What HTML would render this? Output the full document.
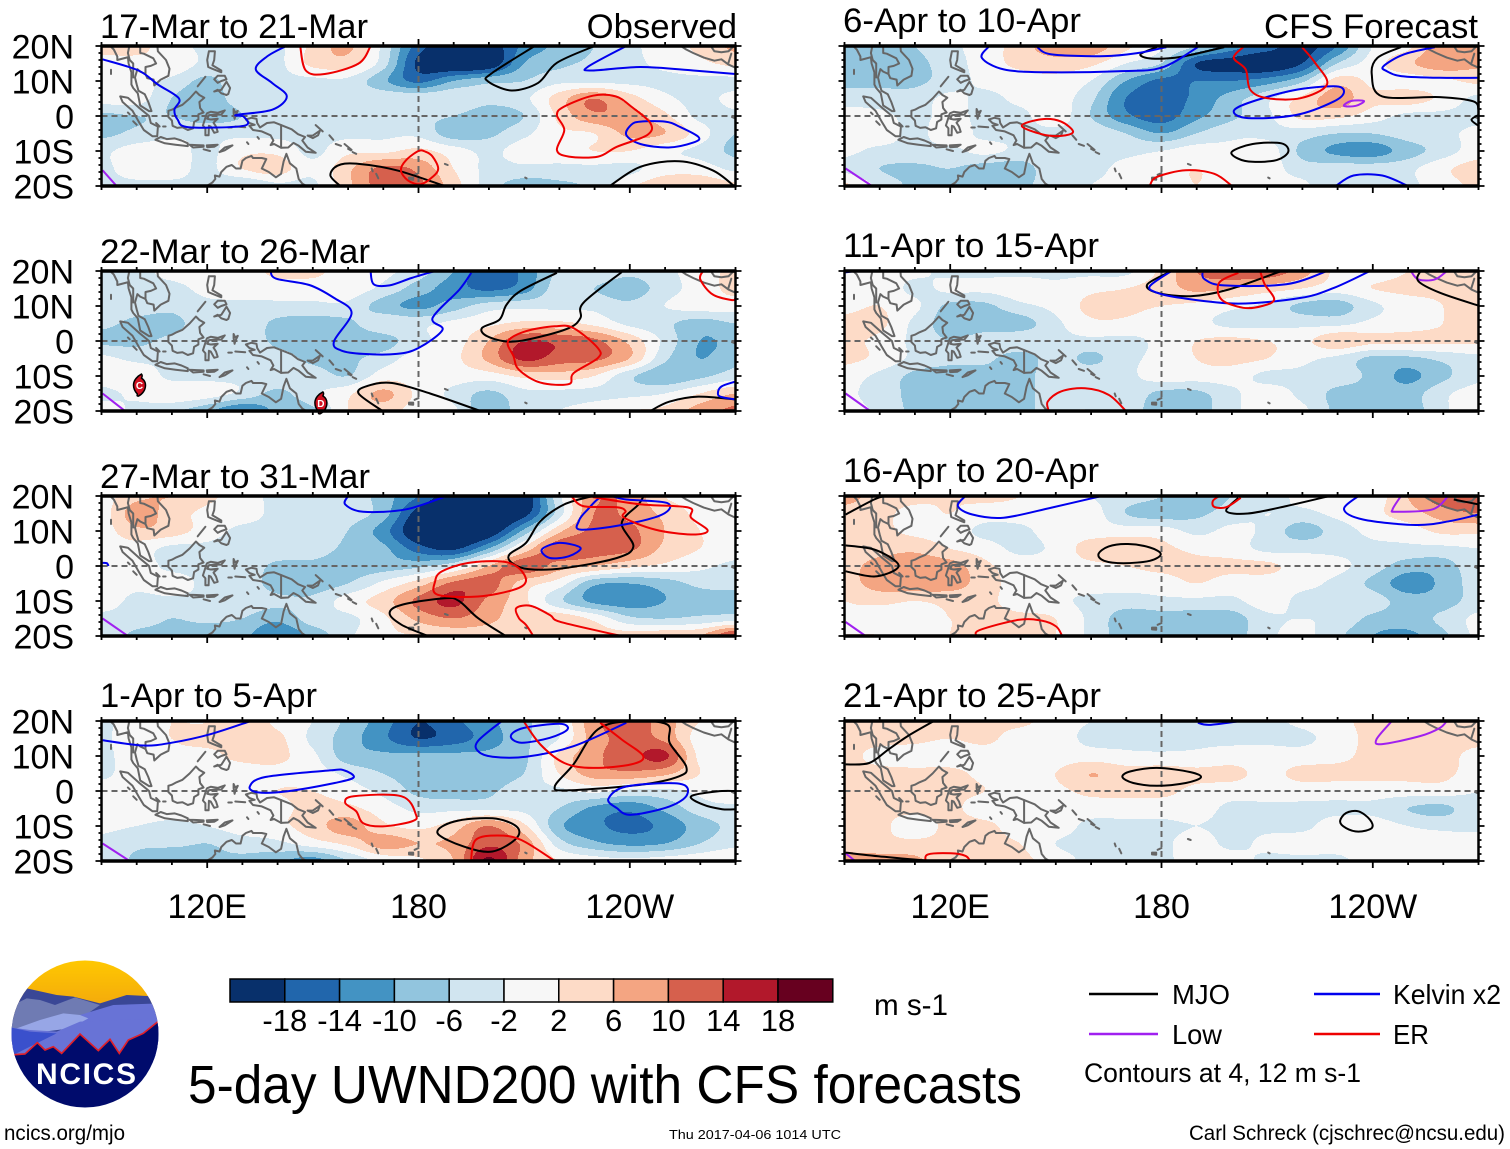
<!DOCTYPE html>
<html>
<head>
<meta charset="utf-8">
<title>5-day UWND200 with CFS forecasts</title>
<style>
html,body{margin:0;padding:0;background:#fff;}
svg{display:block;}
text{font-family:"Liberation Sans",sans-serif;fill:#000;}
</style>
</head>
<body>
<svg id="chart" xmlns="http://www.w3.org/2000/svg" width="1510" height="1149" viewBox="0 0 1510 1149">
<rect width="1510" height="1149" fill="#fff"/>
<defs><clipPath id="logo-clip"><circle cx="85" cy="1034" r="73.5"/></clipPath>
<linearGradient id="sun" x1="0" y1="0" x2="0" y2="1"><stop offset="0" stop-color="#ffc800"/><stop offset="1" stop-color="#f0a010"/></linearGradient></defs>
<g id="panels"></g>

<g>
<g clip-path="url(#logo-clip)">
<rect x="10" y="960" width="150" height="60" fill="url(#sun)"/>
<g transform="translate(0 950) scale(.3333)">
<path d="M30 130 L80 115 L170 135 L220 140 L300 160 L380 135 L480 140 L480 330 L30 330Z" fill="#3a4796"/>
<path d="M30 170 L80 145 L120 150 L165 165 L225 142 L300 165 L250 200 L130 240 L30 240Z" fill="#6f7bb3"/>
<path d="M240 195 L340 165 L480 160 L480 330 L240 330Z" fill="#6873d6"/>
<path d="M50 235 L120 210 L190 190 L240 195 L265 205 L210 235 L110 248Z" fill="#97a6e6"/>
<path d="M30 232 L90 240 L170 245 L240 215 L480 205 L480 330 L30 330Z" fill="#6873d6"/>
<path d="M30 232 L90 245 L170 250 L90 290 L40 315 L30 315Z" fill="#3a50cc"/>
<path d="M30 315 L75 312 L112 278 L135 300 L160 290 L185 310 L240 252 L295 302 L330 268 L358 310 L385 270 L430 250 L480 210 L480 480 L30 480Z" fill="#000b6c"/>
<path d="M30 315 L75 312 L112 278 L135 300 L160 290 L185 310 L240 252 L295 302 L330 268 L358 310 L385 270 L430 250 L480 210" fill="none" stroke="#e0202a" stroke-width="5"/>
</g>
</g>
<text x="86" y="1084" text-anchor="middle" font-size="30" font-weight="bold" style="fill:#fff" textLength="100" lengthAdjust="spacing">NCICS</text>
</g>
<g id="colorbar"></g>
<text x="874" y="1015" font-size="30" textLength="74" lengthAdjust="spacingAndGlyphs">m s-1</text>
<text x="188" y="1103" font-size="54" textLength="834" lengthAdjust="spacingAndGlyphs">5-day UWND200 with CFS forecasts</text>

<g>
<line x1="1089" x2="1158" y1="994" y2="994" stroke="#000" stroke-width="2.5"/>
<text x="1172" y="1004" font-size="28" textLength="58" lengthAdjust="spacingAndGlyphs">MJO</text>
<line x1="1314" x2="1380" y1="994" y2="994" stroke="#0000ee" stroke-width="2.5"/>
<text x="1393" y="1004" font-size="28" textLength="108" lengthAdjust="spacingAndGlyphs">Kelvin x2</text>
<line x1="1089" x2="1158" y1="1034" y2="1034" stroke="#a020f0" stroke-width="2.5"/>
<text x="1172" y="1044" font-size="28" textLength="50" lengthAdjust="spacingAndGlyphs">Low</text>
<line x1="1314" x2="1380" y1="1034" y2="1034" stroke="#ee0000" stroke-width="2.5"/>
<text x="1393" y="1044" font-size="28" textLength="36" lengthAdjust="spacingAndGlyphs">ER</text>
<text x="1084" y="1082" font-size="27" textLength="277" lengthAdjust="spacingAndGlyphs">Contours at 4, 12 m s-1</text>
</g>
<text x="4" y="1140" font-size="21" textLength="121" lengthAdjust="spacingAndGlyphs">ncics.org/mjo</text>
<text x="669" y="1139" font-size="13" textLength="172" lengthAdjust="spacingAndGlyphs">Thu 2017-04-06 1014 UTC</text>
<text x="1189" y="1140" font-size="21" textLength="316" lengthAdjust="spacingAndGlyphs">Carl Schreck (cjschrec@ncsu.edu)</text>
</svg>

<script>
// ---------- axis definitions ----------
const lonGrid = [90,100,110,120,130,140,150,160,170,180,190,200,210,220,230,240,250,260,270];
const latGrid = [20,15,10,5,0,-5,-10,-15,-20];
const lonTicks = [120,180,240];
const lonTickLabels = ['120E','180','120W'];
const latTicks = [20,10,0,-10,-20];
const latTickLabels = ['20N','10N','0','10S','20S'];
const colorLevels = [-18,-14,-10,-6,-2,2,6,10,14,18];
const colorBands = ['#08306b','#2166ac','#4393c3','#92c5de','#d1e5f0','#f7f7f7','#fddbc7','#f4a582','#d6604d','#b2182b','#67001f'];

// ---------- UWND200 anomaly grids (rows: latGrid, columns: lonGrid) ----------
const uwndMar17 = [
[3,3,0,-3,-3,-3,3,7,-3,-16,-21,-21,-13,-9,-6,-3,0,3,7],
[1,1,1,-3,-3,-3,3,4,-4,-19,-23,-22,-10,-7,-5,-3,-1,1,3],
[1,0,-3,-7,-3,-3,-3,-3,-9,-15,-10,-7,-6,-3,-3,-3,-3,-3,-3],
[0,0,-6,-8,-4,-3,-3,-3,-3,-3,-3,-5,-3,4,10,4,-1,-3,-1],
[-7,-6,-6,-8,-6,-3,-3,-3,-5,-5,-6,-8,-6,3,9,8,3,-3,-3],
[-7,-5,-3,-3,-3,-3,-3,-3,-3,-3,-8,-7,-3,1,2,7,6,0,-6],
[-3,0,0,-3,1,1,-3,1,1,3,0,-3,0,0,2,2,-1,-3,-7],
[-3,0,0,-3,2,4,-1,5,11,9,2,-3,-3,-3,-3,-3,0,0,-3],
[-3,-3,-3,-3,-6,-3,-3,5,12,11,4,-4,-8,-7,-5,1,5,5,3]];
const uwndMar22 = [
[-3,-3,-1,-1,0,3,3,0,-1,-4,-10,-17,-13,-5,-3,-5,-3,0,3],
[-3,-3,-3,-1,0,0,0,0,-3,-8,-12,-15,-12,-4,-6,-8,-4,0,3],
[-3,-4,-5,-3,-3,-3,-3,-3,-8,-11,-8,-4,-3,-3,-3,-5,-2,0,0],
[-5,-7,-7,-4,-3,-7,-8,-7,-3,-3,-1,1,3,3,1,-3,-5,-8,-6],
[-7,-7,-5,-4,-3,-7,-8,-8,-8,-3,0,6,14,13,11,5,-3,-10,-9],
[-1,-3,-3,-3,-3,-4,-7,-7,-4,0,1,7,15,12,11,6,-5,-10,-7],
[0,1,-3,-3,-3,-3,-4,-6,0,0,0,0,3,4,2,-5,-9,-7,-4],
[-3,-1,1,0,-3,-7,-3,1,7,1,-3,-7,-3,-3,-3,-3,-2,2,6],
[0,-3,-5,-9,-14,-9,-7,2,4,0,-1,-10,-3,-2,0,2,3,8,11]];
const uwndMar27 = [
[0,5,6,3,0,-3,-3,-3,-8,-14,-22,-24,-22,-3,9,9,2,0,-1],
[0,8,4,1,0,-3,-3,-4,-8,-20,-24,-24,-20,-4,10,9,5,1,1],
[0,5,4,0,-3,-3,-3,-6,-12,-22,-24,-22,-9,5,11,11,6,2,1],
[-1,0,-3,-3,-3,-3,-4,-7,-9,-16,-19,-10,3,13,12,11,5,2,0],
[-1,0,-3,-3,-3,-7,-7,-8,-8,-7,-3,6,13,8,6,3,1,-1,-3],
[0,-1,0,-3,-3,-8,-8,-6,-1,4,11,12,4,0,-9,-10,-8,-5,-5],
[0,-3,-3,-3,-3,-5,-5,0,4,11,15,9,3,-5,-11,-12,-10,-8,-7],
[-3,-4,-6,-5,-6,-9,-4,-3,1,7,10,7,4,5,1,-5,-6,-5,-4],
[-3,-7,-7,-9,-9,-14,-9,-3,1,2,3,4,4,5,4,4,5,6,15]];
const uwndApr1 = [
[-3,0,2,2,5,1,-2,-7,-12,-18,-15,-11,-7,-2,9,12,8,2,0],
[-3,1,2,3,3,3,-3,-8,-13,-18,-16,-12,-7,-2,8,11,9,0,0],
[-3,0,1,1,3,3,-1,-8,-9,-9,-9,-9,-7,3,9,12,15,1,0],
[-3,0,-1,0,0,1,0,-3,-6,-8,-9,-9,-6,2,8,9,7,2,-2],
[0,0,1,0,0,2,2,0,-3,-7,-8,-7,-3,-3,-1,-3,-3,-1,1],
[0,0,0,0,0,1,3,3,0,-3,-3,-3,-3,-6,-11,-13,-9,-4,-3],
[-1,-2,-3,-2,0,1,4,8,3,1,4,10,3,-9,-13,-15,-13,-8,-5],
[-3,-5,-5,-6,-4,-3,0,3,8,6,7,13,9,-4,-9,-11,-10,-6,-3],
[-3,-7,-10,-7,-7,-9,-12,-6,-1,1,6,19,8,2,0,-1,0,1,2]];
const uwndApr6 = [
[-7,-6,-6,-3,0,4,9,9,3,-1,-6,-12,-16,-20,-14,-2,1,9,10],
[-7,-7,-7,-4,0,3,4,3,-2,-6,-18,-20,-22,-18,-6,0,5,9,7],
[-7,-7,-7,-4,-1,0,1,-2,-10,-15,-14,-14,-12,-7,4,1,0,1,3],
[-4,-4,-4,-1,-3,-1,0,-5,-14,-16,-13,-8,-3,3,8,3,4,1,-3],
[0,-1,-3,-1,-3,-3,0,-6,-13,-16,-11,-7,-3,3,3,0,-3,-3,-3],
[0,0,-3,0,-3,-3,-3,-3,-6,-10,-6,-3,-3,-4,-6,-6,-4,-3,-1],
[-1,-3,-3,-3,-1,-3,-3,-3,-3,-2,0,-1,0,-7,-11,-12,-8,-4,0],
[-3,-6,-7,-6,-8,-8,-3,-3,-1,0,2,0,0,-4,-4,-4,-3,1,4],
[3,-3,-7,-9,-9,-7,-4,-2,-1,0,2,0,-1,-1,-6,-5,-3,0,3]];
const uwndApr11 = [
[0,0,-1,-3,-3,-3,-3,-3,-3,3,10,13,13,8,1,0,2,3,4],
[0,1,-3,-1,-1,0,-1,1,2,4,7,6,4,2,0,2,3,3,5],
[1,2,-1,-7,-7,-3,-1,3,3,2,1,-1,-3,-7,-8,-3,0,2,4],
[3,3,-3,-8,-8,-8,-3,1,1,-1,-1,-3,-3,-3,-3,-1,0,2,6],
[3,1,-3,-6,-4,-3,-3,-3,-3,-1,2,3,2,1,5,3,3,3,3],
[3,1,-3,-5,-5,-8,-4,-7,-3,-1,2,3,2,-1,-3,-7,-7,-5,-3],
[0,-3,-7,-8,-8,-8,-3,-3,-3,0,0,0,-3,-3,-4,-7,-11,-7,-3],
[-1,-4,-7,-8,-8,-8,-3,-3,-3,-7,-7,-3,0,-3,-7,-7,-8,-3,0],
[0,-3,-7,-8,-8,-8,-3,-2,-4,-8,-8,-3,0,-1,-7,-8,-8,-3,2]];
const uwndApr16 = [
[8,4,3,2,3,2,0,-2,-4,-6,-9,-6,-4,-1,0,0,6,13,14],
[4,3,1,2,0,0,0,0,-6,-8,-7,-4,-2,-3,-1,1,4,8,10],
[3,3,1,0,-3,-3,0,0,0,0,-3,-1,-3,-8,-4,-1,0,3,3],
[2,4,5,2,0,-3,-1,4,5,3,1,0,-3,-3,-3,-3,-3,-3,-2],
[4,8,9,8,3,0,0,1,2,3,3,3,3,0,-1,-4,-8,-8,-3],
[4,8,9,8,4,0,-1,0,0,0,2,0,0,-1,-3,-7,-12,-9,-4],
[2,3,2,3,3,0,-1,-3,-4,-3,-3,-3,0,-3,-3,-4,-8,-8,-4],
[2,0,1,2,3,3,2,-3,-8,-8,-8,-8,-3,-2,-3,-7,-8,-5,-1],
[2,2,0,2,3,3,2,-3,-8,-8,-8,-8,-3,-1,-5,-10,-11,-7,-1]];
const uwndApr21 = [
[3,3,4,6,3,3,0,-2,-3,-3,-3,-3,-3,-1,1,3,3,3,4],
[3,3,3,2,3,0,0,-3,-3,-4,-3,-3,-3,-3,0,3,3,3,3],
[3,1,0,0,0,0,0,0,-1,-1,-1,0,0,0,1,3,3,3,1],
[3,3,3,3,1,0,2,6,4,4,3,3,1,3,3,3,3,3,0],
[3,3,3,3,2,0,1,3,3,3,1,0,0,0,0,0,0,0,-2],
[3,3,3,3,0,0,0,0,0,0,0,-3,-3,-3,-3,-3,-6,-7,-3],
[3,3,0,3,3,0,0,-3,-3,-3,-2,-3,-3,-3,0,0,-2,-3,-3],
[3,3,3,3,3,2,-2,-3,-3,-3,0,-3,-1,0,0,0,0,0,0],
[9,8,7,3,3,3,0,-3,-3,-3,0,0,-3,-3,-3,0,0,0,0]];

// ---------- filtered wave contours [lon,lat] ----------
const mjoMar17 = [
[[157.8,-20],[155,-17],[157,-14.2],[162.3,-13.6],[173.8,-15.5],[187.4,-20]],
[[213,20],[200.9,12.3],[199.6,10],[206.4,7.3],[214,9.5],[219.3,15.2],[230,20]],
[[234.3,-20],[243,-14.5],[254,-12.9],[263.5,-15.5],[269.6,-20]]];
const kelvinMar17 = [
[[90.3,16.2],[100.5,13],[106,9],[112,5],[110.7,1.8],[111.6,-1],[114.7,-3.2],[130.4,-2.8],[130.4,-0.2],[128.3,0.3],[138.5,1.8],[142.6,5.6],[138.5,9.4],[133.8,13.3],[137,17],[142,19.8]],
[[239,20],[228,14],[229.5,13],[243,14],[258,13],[270,12]],
[[240.4,-2.5],[239,-5.4],[243,-8],[251,-9],[258,-7.6],[259.5,-6],[254,-3],[250,-1.6],[243,-1.6],[240.4,-2.5]]];
const erMar17 = [
[[146.4,20],[148,13],[153.4,12],[163,15],[166.4,20]],
[[219.3,0.3],[221.4,2.7],[229.5,5.8],[236,5.6],[240.4,2.7],[245.8,-2],[245,-5.4],[236.3,-8.8],[231,-11.6],[222.7,-11.6],[219.3,-9.7],[221.4,-4],[219.3,0.3]],
[[180,-10],[176.5,-12.6],[175,-15.5],[177,-18.4],[180.6,-19.5],[184,-17.4],[185.6,-15],[184,-11.6],[182,-10.2],[180,-10]]];
const lowMar17 = [[[90.3,-15.5],[94.3,-20]]];

const mjoMar22 = [
[[219.3,19.5],[209,14.3],[205,10.4],[203,6.1],[198,3.7],[199.6,1.3],[205.8,-0.2],[213.2,0.9],[222.7,3.7],[226,6.6],[226.8,10.9],[237.7,19.7]],
[[169.8,-20],[163,-15],[165.6,-12.8],[172.5,-12],[183.3,-15],[197.6,-20]],
[[245.8,-20],[251.3,-17.3],[259.4,-15.9],[270,-16.7]]];
const kelvinMar22 = [
[[138,20],[139.6,17.8],[149,16],[156,12.3],[161,8],[156,-0.1],[158,-2.7],[164.3,-3.7],[173.8,-3.7],[180,-2],[186.8,3.2],[184,6.6],[191.6,14.7],[195,19.5]],
[[166.4,20],[167.3,16.2],[171.8,15.9],[178,18],[184.7,20]],
[[270,-11.6],[266,-13],[265,-15],[266,-16],[270,-16.7]]];
const erMar22 = [
[[205.4,-0.1],[210.5,2.8],[218.7,4.2],[224,3.7],[230.9,-2],[230.9,-4.9],[224,-9.2],[222.7,-12.3],[214.6,-11.9],[208.5,-8.2],[207,-4.4],[205.4,-0.1]],
[[260.8,20],[260,17.6],[263.5,13.3],[269,11.7],[270,12.3]]];
const lowMar22 = [[[90.3,-15],[96.7,-20]]];

const mjoMar27 = [
[[229.5,20],[221.4,17.6],[214.6,12.8],[210.5,6.6],[205.8,3.3],[206.5,0.9],[211.2,-0.9],[221.4,-0.6],[236.3,2.3],[241,5.6],[237.7,12.3],[242.5,17.6],[243.9,20]],
[[182.7,-20],[175.2,-16.8],[171.8,-13.5],[175.2,-11.1],[187.4,-9.2],[191.5,-10],[196.9,-14.9],[204.8,-20]]];
const kelvinMar27 = [
[[160,20],[159.2,17.6],[164.3,15.5],[176.5,16.2],[188,20]],
[[225.5,12.8],[227.6,15.7],[232.5,20],[239,19],[250.6,18],[249.2,14.7],[237.7,11.7],[226,10.4],[225.5,12.8]],
[[215,4.7],[220,6.6],[226,5.2],[222.7,2.8],[217.3,2.3],[215,4.7]],
[[90.3,0.9],[91.5,0.8],[92,0]]];
const erMar27 = [
[[223.4,20],[226.8,17.1],[236.3,16.8],[238.8,15.7],[238.4,13.8],[247.2,10.4],[257.4,9],[262.1,10.1],[257.4,13.8],[256.7,16.7],[243.1,17.6],[229.5,19.7]],
[[184.7,-4.4],[186.7,-1.5],[194.2,0.9],[203.7,1.3],[208.5,-0.6],[210.5,-4.4],[207,-6.8],[196.9,-8.7],[185.4,-8.2],[184.7,-4.4]],
[[212.6,-20],[210.5,-16.8],[208.5,-14.9],[207.8,-12],[211.9,-11.4],[217.3,-14],[220,-15.9],[232.2,-18.8],[237.7,-20]]];
const lowMar27 = [[[90.3,-15],[97.5,-20]]];

const mjoApr1 = [
[[185.4,-12],[190.2,-8.7],[201,-7.8],[207.8,-10.1],[207.8,-13.5],[201,-17.3],[192.9,-15.9],[185.4,-12]],
[[218.7,1.3],[224,7.6],[230.9,17.6],[240.4,20],[250.6,19],[251.3,13.8],[256,7],[254,4.2],[243.1,1.8],[222.7,0.2],[218.7,1.3]],
[[270,0],[264.9,-0.1],[257.4,-1.5],[260.8,-3.9],[266.2,-5.2],[270,-5.2]]];
const kelvinApr1 = [
[[90.3,14.5],[101.8,13],[110,13.8],[120.8,16.2],[132.4,20]],
[[132.1,1.3],[136.5,4],[154.8,5.9],[158.9,5.9],[161.6,3.9],[156.2,2.3],[142.6,-0.1],[134.4,-0.4],[132.1,1.3]],
[[203.7,20],[196.9,14.3],[196.9,11.4],[201,9.8],[210.5,9.8],[224,12.8],[239,19.5]],
[[206.2,15.7],[209.8,18],[220,19.2],[222.3,17.6],[217.3,15.2],[209.2,13.8],[206.2,15.7]],
[[233.9,-2.3],[239,1.3],[254,2.1],[256.3,-1],[251.3,-4.4],[240.4,-6.8],[236.3,-4.9],[233.9,-2.3]]];
const erApr1 = [
[[159.2,-3.4],[161.6,-1.5],[175.2,-1.5],[179.3,-6.8],[178,-8.7],[169.8,-10.1],[164.3,-9.2],[162.3,-5.8],[159.2,-3.4]],
[[209.8,20],[214.6,13.3],[221.4,8],[229.5,6.6],[240.4,7.6],[243.8,10],[237.7,14.7],[231.6,19.5]],
[[194.9,-20],[196.2,-14],[202.4,-12.7],[209.2,-14],[218.7,-20]]];
const lowApr1 = [[[90.3,-15],[98,-20]]];

const mjoApr6 = [
[[178.7,19.7],[174,17.6],[177.3,16.4],[185.5,16.9],[197.8,19.7]],
[[200,-10.2],[205.9,-8],[214,-7.8],[216,-10.2],[212.7,-12.6],[205.9,-13.1],[201.8,-12.2],[200,-10.2]],
[[248,19.7],[241.3,16.6],[239.7,11.8],[242.7,5.6],[259,5.4],[268.5,4.2],[270,1.8]],
[[270,-2.8],[268,-1.1],[270,0.3]]];
const kelvinApr6 = [
[[130.8,19.7],[129,16.6],[135.2,13.3],[147.4,12.5],[167.8,12.8],[180,13.8],[190.3,19.7]],
[[144.7,19.7],[148.8,17.6],[163.7,17.1],[173.3,18],[181.4,19.7]],
[[200.5,1.3],[204.6,3.7],[217.2,7.3],[229,8.5],[231.8,7],[229,4.2],[218.2,0.3],[204.6,-0.6],[200.5,1.3]],
[[270,10.9],[259,10.9],[248,11.4],[244,12.8],[243,14.2],[248.8,17.6],[257.6,19.7]],
[[229.5,-20],[234.5,-17],[242.7,-17],[250,-20]]];
const erApr6 = [
[[140.3,-2.8],[146,-0.9],[151.5,-1.6],[154.9,-4.5],[151.5,-5.7],[146,-5.2],[140.3,-2.8]],
[[203.2,19.7],[200.5,16.6],[203.9,13.3],[205.2,7.5],[210,5.1],[219.5,5.1],[227,9],[223.6,15.2],[219.9,19.7]],
[[176.7,-19.8],[178.7,-17.4],[186.9,-15.5],[195,-16.5],[200,-20]]];
const lowApr6 = [
[[231.8,2.9],[233.8,4.3],[237.5,4.3],[235.2,2.9],[231.8,2.9]],
[[90.3,-15],[97.8,-20]]];

const mjoApr11 = [
[[182.8,20],[176,16.2],[178.7,13.8],[188.2,12.8],[199,14.7],[214,20]],
[[253.5,20],[252.9,17.1],[259,13.8],[270,10.1]]];
const kelvinApr11 = [
[[239.2,20],[229,15.2],[219.5,12.3],[201.8,10.7],[185.5,12.3],[178.7,13.8],[176.7,15.7],[182.8,20]],
[[191.6,19.5],[192.3,17.6],[197.7,15.9],[215.4,16.2],[227,20]],
[[90.3,19.6],[93,20]]];
const erApr11 = [
[[148,-20],[147.7,-17.3],[151.5,-14.4],[158.3,-13.5],[165,-15.4],[169.9,-20]],
[[208,20],[209.3,16.2],[212,11.9],[208.6,10],[203.2,9.5],[197,11.9],[196.4,16.7],[201.8,19.5]]];
const lowApr11 = [
[[90.3,-15],[97.3,-20]],
[[250.8,20],[252.9,17.6],[257.6,17.6],[261,20]]];

const mjoApr16 = [
[[90.3,14.7],[98.4,19],[101.4,20]],
[[90.3,5.9],[98.4,4.7],[104.6,1.3],[104.6,-1],[98.4,-3],[90.3,-1.5]],
[[162.1,3.4],[165,5.6],[170.5,6.3],[176.7,5.3],[179.8,3.4],[176.7,1.5],[169.2,0.8],[163.7,1.5],[162.1,3.4]],
[[227.7,20],[215.4,17.1],[204.5,15],[198.4,15.7],[201.8,19.5]],
[[263,19],[270,17.6]]];
const kelvinApr16 = [
[[124.3,20],[122.2,17.1],[126.3,14.7],[135.2,13.8],[148.8,16.7],[163,20]],
[[235.9,20],[231.8,16.2],[237.2,13.3],[252.2,11.7],[261.7,12.8],[270,14.7]]];
const erApr16 = [
[[196.4,20],[194.6,18.6],[195,16.9],[198.4,16.8],[202.5,19.5]],
[[127.4,-20],[128.4,-18.3],[139.3,-15.4],[146,-15.6],[150.1,-17.3],[151.8,-20]]];
const lowApr16 = [
[[90.3,-16],[96,-20]],
[[261.4,20],[257,16.2],[246.7,15.5],[245.6,16.2],[248,20]]];

const mjoApr21 = [
[[90.3,7.6],[97,8],[102.5,11.9],[108,15.7],[115.4,20]],
[[168.9,4],[171.2,5.6],[178.7,6.6],[188.2,5.4],[191.2,3.9],[186.9,2.3],[178.7,1.5],[172,2.3],[168.9,4]],
[[230.7,-8.7],[232.4,-6.3],[235.9,-5.8],[239.2,-8.2],[239.7,-10.6],[235.9,-11.6],[232.4,-10.6],[230.7,-8.7]],
[[90.3,-17.6],[101.2,-18.8],[113.4,-19.9],[120,-20]]];
const kelvinApr21 = [[[190.3,19.5],[193.6,18.9],[202.5,20]]];
const erApr21 = [[[113,-19.9],[113.7,-18.1],[120.2,-17.8],[124.3,-18.5],[125.6,-19.9]]];
const lowApr21 = [
[[90.3,-17.8],[93,-20]],
[[245.4,20],[241,14.7],[242.7,13.4],[253.5,15.7],[259,18],[261,20]]];

// ---------- coastlines [lon,lat] ----------
const coastlines = [
[[92,20.5],[93.5,19],[94.5,17],[94.5,16],[96,16.4],[97.5,16.8],[97.7,15],[98.5,12.5],[98.5,9],[99,8],[100.3,6.5],[101,3],[103.5,1.4],[104.2,1.4],[103.3,4],[102.3,6.2],[100.5,7.2],[100,9],[99.5,11],[100.2,13.4],[101,12.7],[102.5,12],[103,10.8],[104.8,10.4],[105,8.7],[106.8,10.4],[109,11.5],[109.3,13.5],[108.3,16],[106,18.5],[105.8,20.5]],
[[101,20.5],[101,18],[102,17.8],[104.7,16.5],[105.5,15],[104,14.3],[102.5,14],[102.5,12]],
[[98,20.5],[97.5,18],[98,16],[99,15],[99,11]],
[[95.3,5.6],[97.5,5.2],[100.5,2.5],[103.5,0],[104,-2],[106,-3],[105.8,-5.8],[104.5,-5.8],[102,-4],[100.5,-1.5],[98.8,1.5],[96,4],[95.3,5.6]],
[[105.3,-6.8],[106.8,-6],[108.5,-6.6],[110.8,-6.4],[112.7,-7],[114.5,-7.8],[114.5,-8.6],[111,-8.2],[108,-7.8],[105.3,-6.8]],
[[115,-8.2],[117,-8.3],[119,-8.4],[119,-8.8],[116,-9],[115,-8.2]],
[[119.9,-8.4],[123,-8.2],[122,-8.8],[120,-8.9],[119.9,-8.4]],
[[123.5,-10.3],[125,-9],[127.2,-8.4],[125,-9.8],[123.5,-10.3]],
[[119,-9.5],[120.8,-10]],
[[109,1.5],[110,1.8],[111.3,2.5],[113,3.2],[115,5],[116.8,7],[117.8,6],[119.2,5.2],[117.8,4],[118,2.3],[119,1],[117.5,0.5],[117.5,-1],[116.3,-1.7],[116,-3.5],[114.5,-4],[113,-3.2],[111.5,-3.4],[110.2,-2.8],[110,-1.3],[109,-0.3],[109,1.5]],
[[119.8,0.5],[120,0.8],[121,1.2],[123,0.9],[125,1.6],[124,0.4],[122,0.4],[120.5,0.2],[120,-0.8],[121,-1],[123,-0.8],[121.8,-1.9],[122.5,-3],[123,-4.5],[122,-4.8],[121,-3],[120.5,-2.8],[120.4,-5.5],[119.5,-5.5],[119.5,-3.5],[118.8,-2.7],[119.8,0.5]],
[[120.5,18.5],[122.2,18.5],[122,16],[121.5,14.5],[124,13],[124,12.5],[121.5,13.5],[120.3,14],[120,16],[120.5,18.5]],
[[122,7],[124,7.5],[125.5,9.8],[126.5,8],[126,6.3],[125.5,6],[124,6.5],[123,7.5],[122,7]],
[[123,11.5],[125,11.5],[125.5,10.5],[124,10],[123,9.5],[122,10.5],[123,11.5]],
[[117.3,8.5],[119.5,11.2]],
[[127.5,2],[128,1],[128.7,1.5],[128,0],[127.8,-0.8],[127.5,0.8],[127.5,2]],
[[128,-3],[130.8,-3.2]],[[126,-3.3],[127,-3.3]],
[[131,-1],[132.5,-0.5],[134,-0.8],[134.2,-2],[135,-3.3],[137,-2],[139,-1.8],[141,-2.6],[144,-3.8],[145.8,-5.2],[147.8,-6],[147,-7],[148.5,-9],[150.8,-10.5],[148,-10.2],[146,-8.5],[144.5,-7.7],[143,-9],[141,-9.1],[139,-8],[138,-8.3],[138.8,-7],[138,-5.5],[135.5,-4.4],[133,-4],[132,-2.8],[133.5,-2.5],[132,-2],[131,-1]],
[[141,-2.6],[141,-9.1]],
[[148.5,-5.6],[150,-5.6],[152,-4.2],[151.5,-5.5],[150,-6.3],[148.5,-5.6]],
[[150.8,-2.6],[152.8,-4.4]],
[[154.7,-5.5],[155.8,-6.8]],[[156.5,-8],[158,-8.5]],[[159,-8],[161,-9.7]],[[160,-9.4],[160.8,-9.8]],[[161.3,-10.3],[162.3,-10.8]],
[[166.7,-15],[167,-15.8]],[[168,-16.5],[168.6,-17.8]],
[[177.3,-17.6],[178.5,-17.6],[178.5,-18.2],[177.3,-18.1],[177.3,-17.6]],[[178.9,-16.8],[180,-16.3]],
[[187.5,-13.7],[188.3,-14]],[[210.3,-17.6],[210.7,-17.8]],
[[121.5,-19],[122.3,-18],[122.2,-17],[123.5,-17.3],[124,-16],[125.5,-14.5],[127,-14],[128.2,-15],[129.5,-15],[130,-12.8],[131,-12],[132.6,-11.4],[133,-12],[135.5,-12],[136.8,-12.3],[135.5,-15],[137.5,-16],[139.5,-17.5],[141,-16.5],[141.7,-13],[142.5,-10.8],[143.5,-13.5],[145.3,-15],[146,-18],[147,-19.3],[148.5,-20.2]],
[[120,-19.9],[121.5,-19]],
[[254.5,20],[256,19],[258,18],[261,16.7],[264,15.8],[266,16.2],[268,14.7],[270,13.8]],
[[263,20],[264,18.5],[266,18.2],[268,18.5],[269.5,20]],
[[267.9,14.9],[268.8,17.8]],
[[269,-0.3],[269.7,-0.6]],
[[92.7,12],[92.7,13.2]],[[97.5,1],[98,0.5]],[[99,-1.5],[100,-2.5]],[[105.5,-2],[106.5,-3]],[[107.5,-3],[108.2,-3]],
[[131.3,-7.5],[131.7,-8]],[[134.3,-6],[134.7,-6.5]]
];

// ---------- panels ----------
const panelTitles = ['17-Mar to 21-Mar','22-Mar to 26-Mar','27-Mar to 31-Mar','1-Apr to 5-Apr','6-Apr to 10-Apr','11-Apr to 15-Apr','16-Apr to 20-Apr','21-Apr to 25-Apr'];
const panelFields = [uwndMar17,uwndMar22,uwndMar27,uwndApr1,uwndApr6,uwndApr11,uwndApr16,uwndApr21];
const panelMjo = [mjoMar17,mjoMar22,mjoMar27,mjoApr1,mjoApr6,mjoApr11,mjoApr16,mjoApr21];
const panelKelvin = [kelvinMar17,kelvinMar22,kelvinMar27,kelvinApr1,kelvinApr6,kelvinApr11,kelvinApr16,kelvinApr21];
const panelEr = [erMar17,erMar22,erMar27,erApr1,erApr6,erApr11,erApr16,erApr21];
const panelLow = [lowMar17,lowMar22,lowMar27,lowApr1,lowApr6,lowApr11,lowApr16,lowApr21];
const cycloneLons = [100.8,152.3];
const cycloneLats = [-12.6,-17.7];
const cycloneLetters = ['C','D'];

const NS = 'http://www.w3.org/2000/svg';
const PW = 634, PH = 140, RS = 225, LEFT = [101.5,844.5], TOP = 46;
const TITLE_BASE = [38,263,488,707,32,257,482,707];
const TITLE_W = [268,270,270,217,238,256,256,258];

function mk(tag, attrs, parent){
  const el = document.createElementNS(NS, tag);
  for (const k in attrs) el.setAttribute(k, attrs[k]);
  parent.appendChild(el);
  return el;
}
function catmull(p0,p1,p2,p3,t){
  return 0.5*((2*p1)+(-p0+p2)*t+(2*p0-5*p1+4*p2-p3)*t*t+(-p0+3*p1-3*p2+p3)*t*t*t);
}
function bandIndex(v){
  let i = 0;
  while (i < colorLevels.length && v >= colorLevels[i]) i++;
  return i;
}
function sampleField(f, lon, lat){
  const step = lonGrid[1]-lonGrid[0], lstep = latGrid[0]-latGrid[1];
  const u = (lon-lonGrid[0])/step, v = (latGrid[0]-lat)/lstep;
  const iu = Math.min(Math.max(Math.floor(u),0),lonGrid.length-2), iv = Math.min(Math.max(Math.floor(v),0),latGrid.length-2);
  const tu = u-iu, tv = v-iv, rows = [];
  for (let r=-1;r<=2;r++){
    const R = f[Math.min(Math.max(iv+r,0),latGrid.length-1)];
    const c = k => R[Math.min(Math.max(iu+k,0),lonGrid.length-1)];
    rows.push(catmull(c(-1),c(0),c(1),c(2),tu));
  }
  return catmull(rows[0],rows[1],rows[2],rows[3],tv);
}
function smoothPath(pts, xs, ys){
  const P = pts.map(p=>[xs(p[0]),ys(p[1])]);
  const closed = pts.length>2 && pts[0][0]===pts[pts.length-1][0] && pts[0][1]===pts[pts.length-1][1];
  const n = P.length;
  let d = 'M'+P[0][0].toFixed(1)+' '+P[0][1].toFixed(1);
  for (let i=0;i<n-1;i++){
    const a = i>0?P[i-1]:(closed?P[n-2]:P[i]);
    const b = P[i], c = P[i+1];
    const e = i<n-2?P[i+2]:(closed?P[1]:c);
    d += 'C'+(b[0]+(c[0]-a[0])/6).toFixed(1)+' '+(b[1]+(c[1]-a[1])/6).toFixed(1)+' '+(c[0]-(e[0]-b[0])/6).toFixed(1)+' '+(c[1]-(e[1]-b[1])/6).toFixed(1)+' '+c[0].toFixed(1)+' '+c[1].toFixed(1);
  }
  return d;
}
function drawLines(group, sets, color, name, xs, ys){
  sets.forEach(pts=>{
    const el = mk('path',{d:smoothPath(pts,xs,ys),fill:'none',stroke:color,'stroke-width':2},group);
    
    
  });
}

const root = document.getElementById('panels');
const defs = document.querySelector('defs');
panelTitles.forEach((title,idx)=>{
  const col = idx<4?0:1, row = idx%4;
  const L = LEFT[col], T = TOP+row*RS;
  const xs = lon => L+(lon-90)*PW/180;
  const ys = lat => T+(20-lat)*PH/40;
  const g = mk('g',{},root);
  
  
  const cp = mk('clipPath',{id:'clip'+idx},defs);
  mk('rect',{x:L,y:T,width:PW,height:PH},cp);
  const plot = mk('g',{'clip-path':'url(#clip'+idx+')'},g);
  
  

  // filled field, one path per colour band
  const segs = colorBands.map(()=>[]);
  const F = panelFields[idx];
  const L0 = Math.floor(L);
  for (let py=0;py<PH;py++){
    const lat = 20-(py+0.5)*40/PH;
    let start = 0, cur = -1;
    for (let px=0;px<=PW;px++){
      const b = px<PW?bandIndex(sampleField(F,90+(px+0.5)*180/PW,lat)):-2;
      if (b!==cur){
        if (cur>=0) segs[cur].push('M'+(L0+start)+' '+(T+py)+'h'+(px-start)+'v1h-'+(px-start)+'z');
        cur = b; start = px;
      }
    }
  }
  segs.forEach((s,b)=>{
    if (!s.length) return;
    const el = mk('path',{d:s.join(''),fill:colorBands[b],'shape-rendering':'crispEdges'},plot);
    
    
  });

  // coastlines
  const cg = mk('g',{},plot);
  
  
  coastlines.forEach(c=>{
    const d = c.map((p,i)=>(i?'L':'M')+xs(p[0]).toFixed(1)+' '+ys(p[1]).toFixed(1)).join('');
    const el = mk('path',{d:d,fill:'none',stroke:'#666','stroke-width':2,'stroke-linejoin':'round','stroke-linecap':'round'},cg);
    
    
  });

  // reference lines
  const eq = mk('line',{x1:L,x2:L+PW,y1:ys(0),y2:ys(0),stroke:'#666','stroke-width':2,'stroke-dasharray':'6 4'},plot);
  
  
  const dl = mk('line',{x1:xs(180),x2:xs(180),y1:T,y2:T+PH,stroke:'#666','stroke-width':2,'stroke-dasharray':'6 4'},plot);
  
  

  // wave contours
  drawLines(plot,panelLow[idx],'#a020f0','low-contour',xs,ys);
  drawLines(plot,panelMjo[idx],'#000','mjo-contour',xs,ys);
  drawLines(plot,panelKelvin[idx],'#0000ee','kelvin-contour',xs,ys);
  drawLines(plot,panelEr[idx],'#ee0000','er-contour',xs,ys);

  // cyclones
  if (idx===1){
    cycloneLons.forEach((lon,i)=>{
      const cy = mk('g',{transform:'translate('+xs(lon).toFixed(1)+' '+ys(cycloneLats[i]).toFixed(1)+')'},g);
      
      
      mk('path',{d:'M2 -11C-2 -9 -6 -5 -6 0C-6 3 -5 6 -2 9C-3 11 -2 11 -1 11C3 9 6 5 6 0C6 -3 5 -5 2 -7C3 -9 3 -10 2 -11Z',fill:'#d01020',stroke:'#000','stroke-width':1.5},cy);
      const tx = mk('text',{x:0,y:4,'text-anchor':'middle','font-size':10,'font-weight':'bold',style:'fill:#fff'},cy);
      tx.textContent = cycloneLetters[i];
    });
  }

  // frame
  const fr = mk('rect',{x:L,y:T,width:PW,height:PH,fill:'none',stroke:'#000','stroke-width':2.5},g);
  
  
  const tb = mk('path',{d:'M'+(L-1)+' '+T+'h'+(PW+2)+'M'+(L-1)+' '+(T+PH)+'h'+(PW+2),stroke:'#000','stroke-width':3.5,fill:'none'},g);
  
  

  // ticks
  let t = '';
  for (let lon=90;lon<=270;lon+=10){
    const major = lonTicks.indexOf(lon)>=0, len = major?7:4, x = xs(lon).toFixed(1);
    t += 'M'+x+' '+(T-len)+'v'+len+'M'+x+' '+(T+PH)+'v'+len;
  }
  for (let lat=-20;lat<=20;lat+=2){
    const major = latTicks.indexOf(lat)>=0, len = major?6:3, y = ys(lat).toFixed(1);
    t += 'M'+(L-len)+' '+y+'h'+len+'M'+(L+PW)+' '+y+'h'+len;
  }
  const tk = mk('path',{d:t,stroke:'#000','stroke-width':1.8,fill:'none'},g);
  
  

  // title
  const tt = mk('text',{x:Math.floor(L)-1,y:TITLE_BASE[idx],'font-size':34.7,textLength:TITLE_W[idx],lengthAdjust:'spacingAndGlyphs'},g);
  
  
  tt.textContent = title;

  // y labels on left column
  if (col===0){
    latTicks.forEach((lat,i)=>{
      const el = mk('text',{x:74,y:ys(lat)+12.5,'font-size':34,'text-anchor':'end'},g);
      
      
      el.textContent = latTickLabels[i];
    });
  }
  // x labels on bottom row
  if (row===3){
    lonTicks.forEach((lon,i)=>{
      const el = mk('text',{x:xs(lon),y:918,'font-size':34,'text-anchor':'middle'},g);
      
      
      el.textContent = lonTickLabels[i];
    });
  }
});

// panel-corner labels
[['Observed',737,'observed-label'],['CFS Forecast',1478,'cfs-forecast-label']].forEach(a=>{
  const el = mk('text',{x:a[1],y:38,'font-size':34.7,'text-anchor':'end'},root);
  
  
  el.textContent = a[0];
});

// colorbar
const cb = document.getElementById('colorbar');
const CBX = 230, CBW = 54.8, CBY = 979, CBH = 23;
colorBands.forEach((c,i)=>{
  const el = mk('rect',{x:CBX+i*CBW,y:CBY,width:CBW,height:CBH,fill:c,stroke:'#000','stroke-width':1.5},cb);
  
  
});
colorLevels.forEach((v,i)=>{
  const el = mk('text',{x:CBX+(i+1)*CBW,y:1031,'font-size':31,'text-anchor':'middle'},cb);
  
  
  el.textContent = String(v);
});
</script>
</body>
</html>
